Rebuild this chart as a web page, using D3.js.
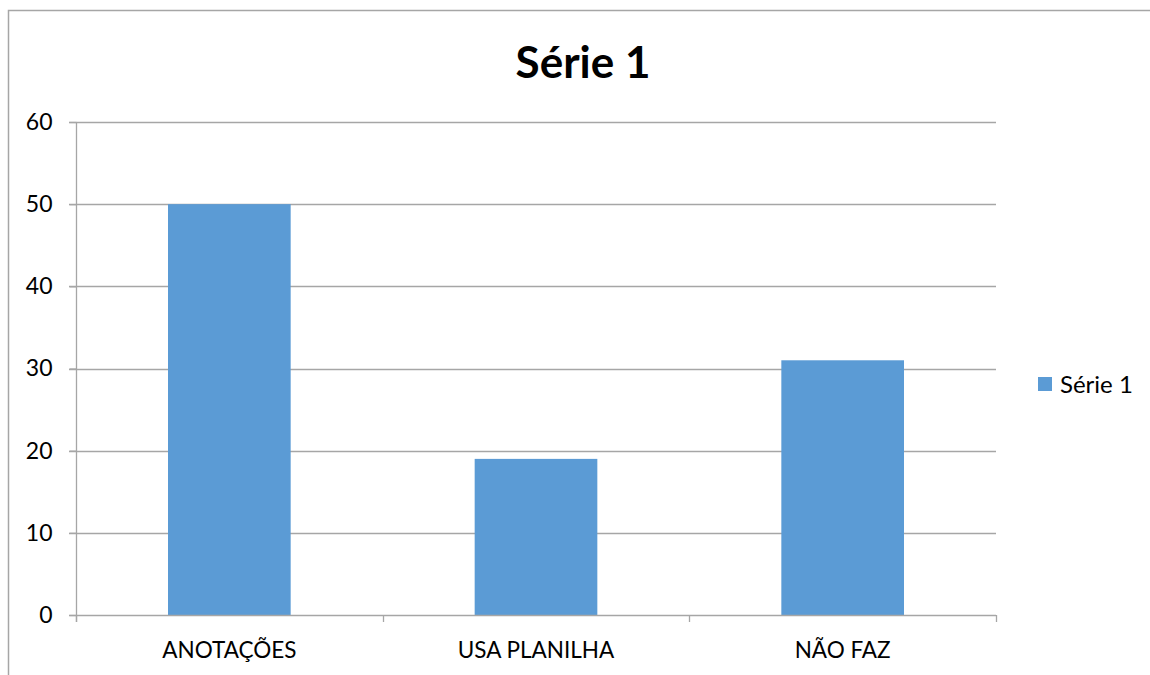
<!DOCTYPE html>
<html>
<head>
<meta charset="utf-8">
<script src="https://cdn.jsdelivr.net/npm/d3@7"></script>
<style>
	body { margin: 0; background: #fff; }
	svg { display: block; font-family: Lato, "Open Sans", sans-serif; }
</style>
</head>
<body>
<svg id="chart" width="1150" height="675"></svg>
<script>
const categories = ['ANOTAÇÕES', 'USA PLANILHA', 'NÃO FAZ'];
const seriesValues = [50, 19, 31];
const seriesName = 'Série 1';
const yTicks = [0, 10, 20, 30, 40, 50, 60];

const svg = d3.select('#chart');
const plot = { left: 76, right: 996, top: 122, bottom: 615 };
const barColor = '#5B9BD5';
const lineColor = '#a6a6a6';

// outer frame (runs off the right and bottom edges)
svg.append('path')
	.attr('d', 'M8.5,675 V10.5 H1150')
	.attr('fill', 'none')
	.attr('stroke', lineColor)
	.attr('stroke-width', 1.5);

svg.append('text')
	.attr('x', 583)
	.attr('y', 78)
	.attr('text-anchor', 'middle')
	.style('font-size', '44px')
	.style('font-weight', 'bold')
	.text(seriesName);

let x = d3.scaleBand()
	.domain(categories)
	.range([ plot.left, plot.right ])
	.paddingInner(0.6)
	.paddingOuter(0.3);

let y = d3.scaleLinear()
	.domain([ 0, 60 ])
	.range([ plot.bottom, plot.top ]);

// gridlines
svg.append('g')
	.selectAll('line')
	.data(yTicks.filter(d => d > 0))
	.join('line')
	.attr('x1', plot.left - 7)
	.attr('x2', plot.right)
	.attr('y1', d => Math.round(y(d)) + 0.5)
	.attr('y2', d => Math.round(y(d)) + 0.5)
	.attr('stroke', lineColor)
	.attr('stroke-width', 1.3);

// bars
svg.append('g')
	.selectAll('rect')
	.data(seriesValues)
	.join('rect')
	.attr('x', (d, i) => x(categories[i]))
	.attr('y', d => y(d))
	.attr('width', x.bandwidth())
	.attr('height', d => y(0) - y(d))
	.attr('fill', barColor);

// y axis
let yAxis = svg.append('g')
	.attr('transform', 'translate(' + (plot.left + 0.5) + ',0)')
	.call(d3.axisLeft(y).tickValues(yTicks).tickSize(7).tickPadding(17))
	.attr('font-family', null)
	.attr('font-size', null);
yAxis.select('.domain').attr('stroke', lineColor).attr('stroke-width', 1.3).attr('d', 'M0,' + plot.top + 'V' + (plot.bottom + 7));
yAxis.selectAll('.tick line').attr('stroke', lineColor).attr('stroke-width', 1.3);
yAxis.selectAll('.tick text').style('font-size', '23px').attr('fill', '#000');

// x axis
let band = (plot.right - plot.left) / categories.length;
let xAxisG = svg.append('g');
xAxisG.append('line')
	.attr('x1', plot.left - 7)
	.attr('x2', plot.right)
	.attr('y1', plot.bottom + 0.5)
	.attr('y2', plot.bottom + 0.5)
	.attr('stroke', lineColor)
	.attr('stroke-width', 1.3);
xAxisG.selectAll('line.tick')
	.data(d3.range(categories.length + 1))
	.join('line')
	.attr('class', 'tick')
	.attr('x1', i => Math.round(plot.left + i * band) + 0.5)
	.attr('x2', i => Math.round(plot.left + i * band) + 0.5)
	.attr('y1', plot.bottom)
	.attr('y2', plot.bottom + 7)
	.attr('stroke', lineColor)
	.attr('stroke-width', 1.3);
xAxisG.selectAll('text')
	.data(categories)
	.join('text')
	.attr('x', d => x(d) + x.bandwidth() / 2)
	.attr('y', 658)
	.attr('text-anchor', 'middle')
	.style('font-size', '22.5px')
	.text(d => d);

// legend
let legend = svg.append('g').attr('transform', 'translate(1038,377)');
legend.append('rect')
	.attr('width', 14)
	.attr('height', 14)
	.attr('fill', barColor);
legend.append('text')
	.attr('x', 22)
	.attr('y', 16)
	.style('font-size', '24px')
	.text(seriesName);
</script>
</body>
</html>
